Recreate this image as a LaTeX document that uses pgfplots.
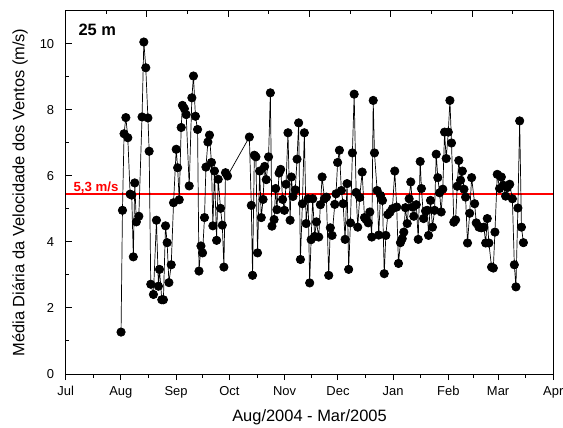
\documentclass[border=0pt]{standalone}
\usepackage{pgfplots}
\pgfplotsset{compat=1.18}
\usepackage{fontspec}
\setmainfont{Liberation Sans}
\pgfplotstableread{
day val
31.1 1.27
31.9 4.96
32.8 7.28
33.8 7.77
34.9 7.16
36.2 5.45
37.1 5.42
38.0 3.55
38.8 5.79
39.7 4.61
41.1 4.78
42.9 7.79
43.9 10.06
45.0 9.28
46.2 7.76
46.9 6.75
47.8 2.72
49.3 2.41
51.0 4.66
52.1 2.66
52.7 3.17
54.0 2.25
54.9 2.25
56.1 4.49
57.0 3.98
58.0 2.77
59.3 3.31
60.6 5.19
62.1 6.81
62.9 6.25
63.8 5.28
64.9 7.47
65.6 8.14
66.7 8.04
67.7 7.86
69.4 5.70
70.9 8.37
71.8 9.03
72.9 7.81
74.1 7.41
74.9 3.12
76.0 3.88
76.9 3.67
78.0 4.74
78.8 6.27
79.9 7.03
80.8 7.24
81.9 6.41
82.7 4.49
83.6 6.15
84.8 4.05
85.7 5.90
87.0 5.02
88.0 4.51
88.9 3.24
89.8 6.10
90.9 6.00
103.2 7.18
104.3 5.11
105.0 2.99
106.0 6.63
106.9 6.58
107.8 3.67
109.0 6.15
109.9 4.74
110.9 5.29
111.8 6.29
112.7 5.89
114.0 6.58
115.0 8.52
115.9 4.48
117.1 4.68
118.0 5.62
118.7 4.98
119.9 6.09
120.8 6.20
121.9 5.29
122.9 4.96
123.8 5.75
124.9 7.31
126.1 4.66
126.8 5.97
127.7 5.38
129.0 5.58
130.0 6.51
130.9 7.61
131.9 3.47
133.0 5.16
134.1 7.31
135.1 4.56
136.2 5.31
137.1 2.76
137.9 4.07
138.8 5.31
139.9 4.17
140.9 4.61
142.2 4.15
143.1 5.13
144.1 5.97
145.4 5.31
146.5 5.36
147.8 2.99
148.7 4.43
149.7 4.20
151.2 5.14
151.9 5.46
152.8 6.41
153.8 6.78
154.9 5.56
155.9 5.16
157.0 4.08
158.1 5.77
159.0 3.17
160.0 4.58
161.1 6.70
162.1 8.48
163.2 5.50
164.1 4.45
165.2 5.35
166.6 6.12
167.9 4.74
168.8 4.68
170.0 4.58
170.9 4.91
172.0 4.15
172.8 8.29
173.5 6.70
175.0 5.56
175.9 4.21
176.9 5.41
178.0 5.26
179.0 3.04
179.9 4.20
181.0 4.83
182.2 4.90
183.6 5.01
184.9 6.15
186.0 5.06
187.0 3.35
188.1 3.98
189.1 4.10
190.0 4.30
190.9 5.04
191.9 4.56
193.0 5.31
193.9 5.82
194.9 5.06
195.6 4.78
197.0 5.13
198.1 4.08
199.2 6.44
199.9 5.62
201.1 4.71
202.2 4.94
203.2 4.96
203.9 4.20
205.0 5.26
206.1 4.45
207.3 4.96
208.2 6.66
209.1 5.95
210.1 5.49
211.0 4.91
211.9 5.60
212.9 7.33
213.8 6.53
215.0 7.33
215.9 8.29
216.8 7.00
218.1 4.60
219.1 4.67
220.0 5.69
220.9 6.47
221.9 5.87
222.9 6.15
223.8 5.60
224.7 5.36
225.8 3.97
227.0 4.87
228.1 5.95
229.8 5.16
230.7 4.58
232.2 4.45
233.5 4.43
235.0 4.45
236.0 3.97
236.9 4.71
237.8 3.97
239.3 3.24
240.3 3.21
241.2 4.30
242.5 6.05
243.8 5.62
244.8 5.97
245.9 5.72
247.2 5.39
248.2 5.65
249.5 5.75
251.0 5.31
252.1 3.31
253.0 2.64
254.1 5.03
255.1 7.67
256.1 4.45
257.2 3.98
}\windtable
\begin{document}
\begin{tikzpicture}
\path[use as bounding box] (-65.7bp,-54bp) rectangle (497.3bp,374bp);
\begin{axis}[
  scale only axis, width=487.6bp, height=363bp,
  xmin=0, xmax=274, ymin=0, ymax=11,
  axis line style={line width=1bp},
  xtick={0,31,62,92,123,153,184,215,243,274},
  xticklabels={Jul,Aug,Sep,Oct,Nov,Dec,Jan,Feb,Mar,Apr},
  minor xtick={15.5,46.5,77,107.5,138,168.5,199.5,229,258.5},
  xtick pos=bottom, tick align=outside,
  ytick=\empty,
  major tick length=6bp, minor tick length=3.5bp,
  tick style={line width=1bp, black},
  xticklabel style={font=\fontsize{13}{15}\selectfont, yshift=-3bp},
  xlabel={Aug/2004 - Mar/2005},
  xlabel style={font=\fontsize{16.5}{19}\selectfont, at={(axis description cs:0.5,-0.1322)}, anchor=base},
]
\addplot[red, line width=1.8bp] coordinates {(0,5.445) (274,5.445)};
\addplot[black, line width=0.7bp, mark=*, mark size=4.2bp, mark options={fill=black, draw=black}] table[x=day, y=val] {\windtable};
\node[anchor=base west, inner sep=0pt, text=red, font=\bfseries\fontsize{13.3}{15}\selectfont] at (axis cs:4.3,5.52) {5,3 m/s};
\node[anchor=base west, inner sep=0pt, font=\bfseries\fontsize{16.5}{19}\selectfont] at (axis cs:7.1,10.27) {25 m};
\end{axis}
\begin{axis}[
  scale only axis, width=487.6bp, height=363bp,
  xmin=0, xmax=274, ymin=0, ymax=11,
  hide x axis, axis y line*=left,
  axis line style={line width=1bp},
  ytick={0,2,...,10}, minor ytick={1,3,...,11},
  tick align=inside,
  major tick length=6bp, minor tick length=3.5bp,
  tick style={line width=1bp, black},
  /pgf/number format/assume math mode=true,
  yticklabel style={font=\fontsize{13}{15}\selectfont, xshift=-8bp},
  ylabel={Média Diária da Velocidade dos Ventos (m/s)},
  ylabel style={font=\fontsize{16.5}{19}\selectfont, at={(axis description cs:-0.0937,0.5)}, anchor=center},
]
\end{axis}
\begin{axis}[
  scale only axis, width=487.6bp, height=363bp,
  xmin=0, xmax=12, ymin=0, ymax=11,
  hide y axis, axis x line*=top,
  axis line style={line width=1bp},
  xtick={0,2,...,12}, minor xtick={1,3,...,11},
  xticklabels={},
  tick align=inside,
  major tick length=6bp, minor tick length=3.5bp,
  tick style={line width=1bp, black},
]
\end{axis}
\end{tikzpicture}
\end{document}
